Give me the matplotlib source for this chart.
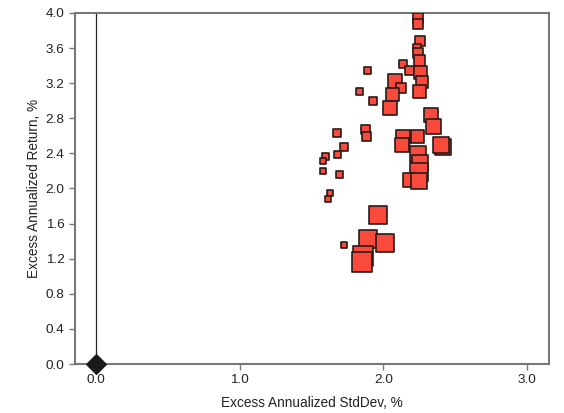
import matplotlib
matplotlib.use("Agg")
import matplotlib.pyplot as plt

plt.rcParams['font.family'] = ['Liberation Sans', 'DejaVu Sans']

# Excess annualized std dev (%) and return (%), relative bubble weight
std_dev = [2.241, 2.241, 2.255, 2.234, 2.241, 2.248, 2.136, 2.178, 2.255, 2.269,
           2.081, 2.122, 2.248, 2.060, 2.046, 1.886, 1.830, 1.928, 2.331, 2.345,
           2.136, 2.234, 2.129, 2.415, 2.401, 2.241, 2.255, 2.248, 2.185, 2.248,
           1.677, 1.872, 1.879, 1.726, 1.594, 1.580, 1.677, 1.580, 1.691, 1.628,
           1.614, 1.962, 1.893, 2.011, 1.726, 1.858, 1.851]
returns = [3.943, 3.875, 3.681, 3.601, 3.544, 3.464, 3.419, 3.350, 3.316, 3.214,
           3.225, 3.145, 3.100, 3.066, 2.917, 3.339, 3.100, 2.997, 2.838, 2.701,
           2.587, 2.587, 2.496, 2.473, 2.496, 2.393, 2.291, 2.188, 2.097, 2.085,
           2.632, 2.667, 2.598, 2.473, 2.370, 2.313, 2.382, 2.199, 2.165, 1.949,
           1.880, 1.698, 1.425, 1.379, 1.356, 1.231, 1.162]
weight = [10, 10, 10, 8, 10, 11, 8, 9, 13, 12,
          14, 10, 13, 13, 14, 7, 7, 8, 14, 15,
          14, 13, 14, 16, 16, 16, 16, 18, 14, 16,
          8, 9, 9, 8, 7, 6, 7, 6, 7, 6,
          6, 18, 18, 18, 6, 20, 20]

bench_x = [0.0]
bench_y = [0.0]

x_ticks = [0.0, 1.0, 2.0, 3.0]
y_ticks = [0.0, 0.4, 0.8, 1.2, 1.6, 2.0, 2.4, 2.8, 3.2, 3.6, 4.0]

fig = plt.figure(figsize=(5.64, 4.13), dpi=100)
ax = fig.add_axes([0.133, 0.1186, 0.840, 0.850])

ax.axvline(0.0, color='#222222', lw=0.9, zorder=1)

sizes = [(w * 0.72) ** 2 for w in weight]
ax.scatter(std_dev, returns, s=sizes, marker='s', facecolor='#F94A3C',
           edgecolor='#2a1a1a', linewidth=1.2, zorder=3)

ax.scatter(bench_x, bench_y, s=100, marker='D', color='#1a1a1a', zorder=4, clip_on=False)

ax.set_xlim(-0.146, 3.15)
ax.set_ylim(0.0, 4.0)
ax.set_xticks(x_ticks)
ax.set_xticklabels([f"{v:.1f}" for v in x_ticks])
ax.set_yticks(y_ticks)
ax.set_yticklabels([f"{v:.1f}" for v in y_ticks])

for s in ax.spines.values():
    s.set_color('#777777')
    s.set_linewidth(1.5)
ax.tick_params(axis='both', colors='#777777', labelcolor='#222222', labelsize=9.7,
               length=4, width=1)

ax.set_xlabel("Excess Annualized StdDev, %", fontsize=9.8, color='#222222', labelpad=7)
ax.set_ylabel("Excess Annualized Return, %", fontsize=9.8, color='#222222', labelpad=3)

fig.savefig("out.png", dpi=100)
